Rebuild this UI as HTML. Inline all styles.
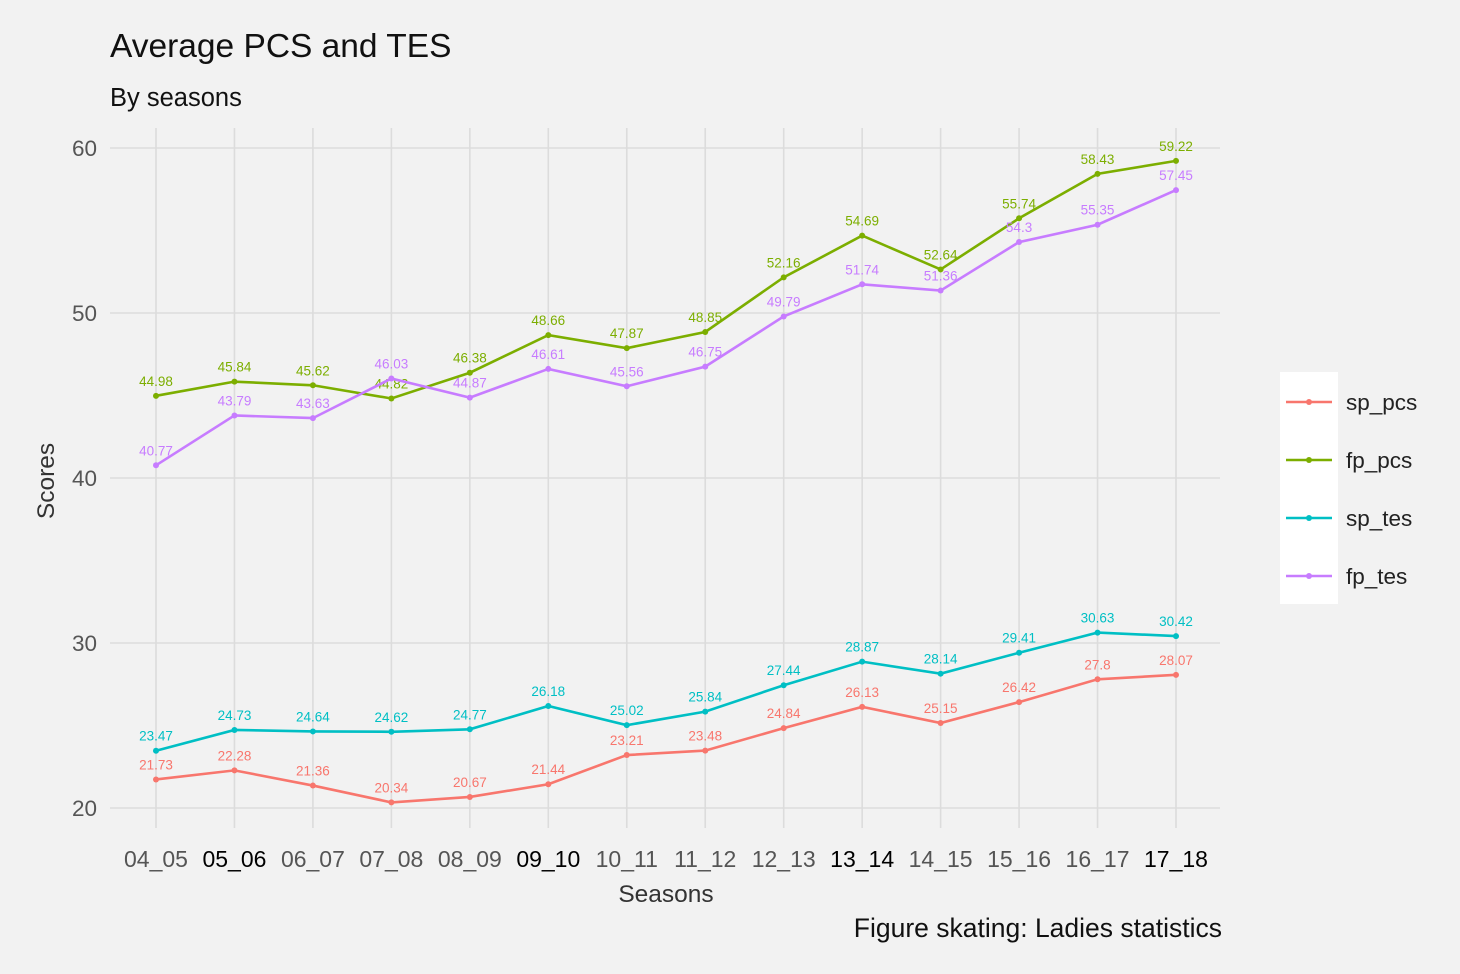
<!DOCTYPE html>
<html><head><meta charset="utf-8"><style>
html,body{margin:0;padding:0;background:#f2f2f2;}
svg{display:block;font-family:"Liberation Sans",Arial,sans-serif;}
</style></head><body>
<svg id="chart" width="1460" height="974" viewBox="0 0 1460 974">
<rect width="1460" height="974" fill="#f2f2f2"/>
<text x="110" y="57" font-size="33.5" fill="#111">Average PCS and TES</text>
<text x="110" y="106" font-size="25.5" fill="#111">By seasons</text>
<g id="grid"></g>
<g id="ylabels"></g>
<g id="xlabels"></g>
<g id="series"></g>
<text x="666" y="902" font-size="24.5" fill="#333" text-anchor="middle">Seasons</text>
<text transform="translate(54,481) rotate(-90)" font-size="24.5" fill="#333" text-anchor="middle">Scores</text>
<text x="1222" y="937" font-size="26.5" fill="#111" text-anchor="end">Figure skating: Ladies statistics</text>
<g id="legend">
<rect x="1280" y="372" width="58" height="232" fill="#ffffff"/>
</g>
</svg>
<script>
const categories=["04_05","05_06","06_07","07_08","08_09","09_10","10_11","11_12","12_13","13_14","14_15","15_16","16_17","17_18"];
const boldCats=["05_06","09_10","13_14","17_18"];
const seriesNames=["sp_pcs","fp_pcs","sp_tes","fp_tes"];
const seriesColors=["#F8766D","#7CAE00","#00BFC4","#C77CFF"];
const spPcs=[21.73,22.28,21.36,20.34,20.67,21.44,23.21,23.48,24.84,26.13,25.15,26.42,27.8,28.07];
const fpPcs=[44.98,45.84,45.62,44.82,46.38,48.66,47.87,48.85,52.16,54.69,52.64,55.74,58.43,59.22];
const spTes=[23.47,24.73,24.64,24.62,24.77,26.18,25.02,25.84,27.44,28.87,28.14,29.41,30.63,30.42];
const fpTes=[40.77,43.79,43.63,46.03,44.87,46.61,45.56,46.75,49.79,51.74,51.36,54.3,55.35,57.45];
const yTicks=[20,30,40,50,60];
const allSeries=[spPcs,fpPcs,spTes,fpTes];
const NS="http://www.w3.org/2000/svg";
const X0=110,X1=1220,Y0=128,Y1=828;
function xScale(i){return 156+i*(1176-156)/(categories.length-1);}
function yScale(v){return 808-(v-20)*16.5;}
function mk(tag,attrs,parent){const e=document.createElementNS(NS,tag);for(const k in attrs)e.setAttribute(k,attrs[k]);parent.appendChild(e);return e;}
const grid=document.getElementById('grid'),yl=document.getElementById('ylabels'),xl=document.getElementById('xlabels'),ser=document.getElementById('series'),leg=document.getElementById('legend');
yTicks.forEach(t=>{
 const l=mk('line',{x1:X0,x2:X1,y1:yScale(t),y2:yScale(t),stroke:'#dcdcdc','stroke-width':1.6},grid);
 
 
 const tx=mk('text',{x:97,y:yScale(t)+8,'font-size':22.5,fill:'#555','text-anchor':'end'},yl);
 tx.textContent=t;
 
 
});
categories.forEach((c,i)=>{
 const l=mk('line',{x1:xScale(i),x2:xScale(i),y1:Y0,y2:Y1,stroke:'#dcdcdc','stroke-width':1.6},grid);
 
 
 const tx=mk('text',{x:xScale(i),y:867,'font-size':23,fill:boldCats.includes(c)?'#000':'#555','text-anchor':'middle'},xl);
 tx.textContent=c;
 
 
});
allSeries.forEach((vals,s)=>{
 const col=seriesColors[s];
 const g=mk('g',{},ser);
 
 
 const p=mk('polyline',{points:vals.map((v,i)=>xScale(i)+','+yScale(v)).join(' '),fill:'none',stroke:col,'stroke-width':2.6},g);
 
 
 vals.forEach((v,i)=>{
  const c=mk('circle',{cx:xScale(i),cy:yScale(v),r:3,fill:col},g);
  
  
  const t=mk('text',{x:xScale(i),y:yScale(v)-10,'font-size':13.5,fill:col,'text-anchor':'middle'},g);
  t.textContent=v;
  
  
 });
 const ky=402+s*58;
 const kl=mk('line',{x1:1286,x2:1332,y1:ky,y2:ky,stroke:col,'stroke-width':2.6},leg);
 
 
 mk('circle',{cx:1309,cy:ky,r:3,fill:col},leg);
 const lt=mk('text',{x:1346,y:ky+8,'font-size':22.5,fill:'#222'},leg);
 lt.textContent=seriesNames[s];
 
 
});
</script>
</body></html>
